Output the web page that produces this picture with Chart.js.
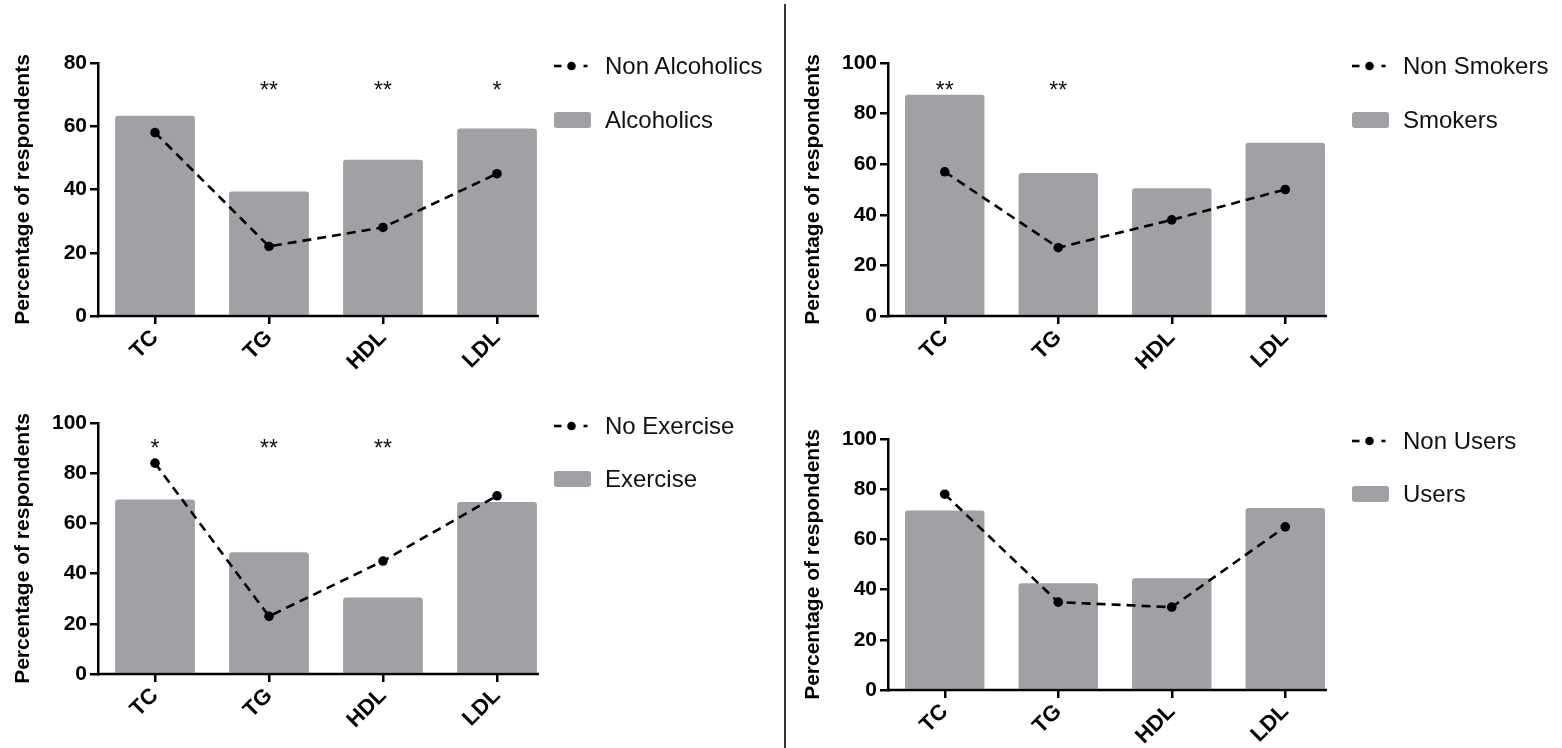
<!DOCTYPE html>
<html><head><meta charset="utf-8">
<script src="https://cdn.jsdelivr.net/npm/chart.js@4"></script>
<style>
html,body{margin:0;padding:0;background:#fff;}
body{width:1562px;height:748px;position:relative;overflow:hidden;font-family:"Liberation Sans",Arial,sans-serif;}
canvas.pane{position:absolute;}
.divider{position:absolute;left:784px;top:4px;width:2px;height:744px;background:#333;}
.leg{position:absolute;font-size:24px;color:#111;white-space:nowrap;line-height:26px;transform:translateY(-50%);}
.sym{position:absolute;transform:translateY(-50%);}
.box{width:37px;height:16px;border-radius:3px;background:#a0a0a5;}
</style>
</head><body>
<div class="divider"></div>
<script>
// ---------- data ----------
const categories = ['TC', 'TG', 'HDL', 'LDL'];

const alcoholics    = [63.3, 39.4, 49.4, 59.3];
const nonAlcoholics = [58, 22, 28, 45];
const starsAlcohol  = ['', '**', '**', '*'];

const smokers       = [87.5, 56.5, 50.5, 68.5];
const nonSmokers    = [57, 27, 38, 50];
const starsSmoking  = ['**', '**', '', ''];

const exercise      = [69.5, 48.5, 30.5, 68.5];
const noExercise    = [84, 23, 45, 71];
const starsExercise = ['*', '**', '**', ''];

const users         = [71.5, 42.5, 44.5, 72.5];
const nonUsers      = [78, 35, 33, 65];
const starsUsers    = ['', '', '', ''];

const yTicks80  = [0, 20, 40, 60, 80];
const yTicks100 = [0, 20, 40, 60, 80, 100];

const yTitle = 'Percentage of respondents';

// ---------- styling / layout ----------
const FONT = '"Liberation Sans", Arial, sans-serif';
const BAR_COLOR = '#a0a0a5';

const panels = [
  { left: 0,   top: 0,   w: 780, h: 380, T: 63, R: 226, H: 64,
    lineLabel: 'Non Alcoholics', barLabel: 'Alcoholics', line: nonAlcoholics, bar: alcoholics,
    stars: starsAlcohol, starLevel: 73, yTicks: yTicks80,
    legX: 554, legY: 66, legGap: 54 },
  { left: 790, top: 0,   w: 772, h: 380, T: 63, R: 220, H: 64,
    lineLabel: 'Non Smokers', barLabel: 'Smokers', line: nonSmokers, bar: smokers,
    stars: starsSmoking, starLevel: 91.5, yTicks: yTicks100,
    legX: 1352, legY: 66, legGap: 54 },
  { left: 0,   top: 360, w: 780, h: 388, T: 63, R: 226, H: 74,
    lineLabel: 'No Exercise', barLabel: 'Exercise', line: noExercise, bar: exercise,
    stars: starsExercise, starLevel: 92, yTicks: yTicks100,
    legX: 554, legY: 426, legGap: 53 },
  { left: 790, top: 370, w: 772, h: 378, T: 69, R: 220, H: 58,
    lineLabel: 'Non Users', barLabel: 'Users', line: nonUsers, bar: users,
    stars: starsUsers, starLevel: 91, yTicks: yTicks100,
    legX: 1352, legY: 441, legGap: 53 }
];

const decor = {
  id: 'decor',
  afterDatasetsDraw(chart, args, opts) {
    const ctx = chart.ctx;
    const area = chart.chartArea;
    const meta = chart.getDatasetMeta(1);
    const last = meta.data[meta.data.length - 1];
    const right = last.x + last.width / 2 + 2;
    ctx.save();
    ctx.strokeStyle = '#000';
    ctx.lineWidth = 2.5;
    ctx.beginPath();
    ctx.moveTo(area.left - 1.25, area.bottom);
    ctx.lineTo(right, area.bottom);
    ctx.stroke();
    const fs = 23;
    ctx.font = fs + 'px ' + FONT;
    ctx.fillStyle = '#111';
    ctx.textAlign = 'center';
    ctx.textBaseline = 'alphabetic';
    const yc = chart.scales.y.getPixelForValue(opts.level);
    (opts.labels || []).forEach((s, i) => {
      if (!s) return;
      const x = chart.scales.x.getPixelForValue(i);
      ctx.fillText(s, x, yc + 0.575 * fs);
    });
    ctx.restore();
  }
};

function lineSymbol() {
  const ns = 'http://www.w3.org/2000/svg';
  const svg = document.createElementNS(ns, 'svg');
  svg.setAttribute('width', '36'); svg.setAttribute('height', '14');
  svg.innerHTML = '<line x1="0" y1="7" x2="7.5" y2="7" stroke="#000" stroke-width="2.6"/>' +
    '<circle cx="17.5" cy="7" r="4.3" fill="#000"/>' +
    '<line x1="29.5" y1="7" x2="33.5" y2="7" stroke="#000" stroke-width="2.6"/>';
  return svg;
}

function addLegend(p, chart) {
  const ds = chart.data.datasets;
  ds.forEach((d, k) => {
    const cy = p.legY + k * p.legGap;
    const sym = document.createElement('div');
    sym.className = 'sym';
    sym.style.left = p.legX + 'px';
    sym.style.top = cy + 'px';
    if (d.type === 'line') { sym.appendChild(lineSymbol()); sym.style.height = '14px'; }
    else { const b = document.createElement('div'); b.className = 'box'; sym.appendChild(b); }
    document.body.appendChild(sym);
    const t = document.createElement('div');
    t.className = 'leg';
    t.textContent = d.label;
    t.style.left = (p.legX + 51) + 'px';
    t.style.top = cy + 'px';
    document.body.appendChild(t);
  });
}

panels.forEach(p => {
  const c = document.createElement('canvas');
  c.className = 'pane';
  c.width = p.w; c.height = p.h;
  c.style.left = p.left + 'px'; c.style.top = p.top + 'px';
  c.style.width = p.w + 'px'; c.style.height = p.h + 'px';
  document.body.appendChild(c);
  const yFont = { family: FONT, size: 21, weight: 'bold' };
  const xFont = { family: FONT, size: 22, weight: 'bold' };
  const chart = new Chart(c.getContext('2d'), {
    type: 'bar',
    data: {
      labels: categories,
      datasets: [
        { type: 'line', label: p.lineLabel, data: p.line, order: 0,
          borderColor: '#000', backgroundColor: '#000', borderWidth: 2.6,
          borderDash: [9, 6], pointRadius: 4.8, pointBackgroundColor: '#000',
          pointBorderWidth: 0, tension: 0, fill: false },
        { type: 'bar', label: p.barLabel, data: p.bar, order: 1,
          backgroundColor: BAR_COLOR, borderWidth: 0, borderRadius: 3,
          borderSkipped: 'start', categoryPercentage: 0.7, barPercentage: 1 }
      ]
    },
    options: {
      responsive: false, animation: false, devicePixelRatio: 1,
      layout: { padding: { left: 0, top: p.T, right: p.R, bottom: 0 } },
      plugins: { legend: { display: false }, tooltip: { enabled: false },
        decor: { labels: p.stars, level: p.starLevel } },
      scales: {
        x: {
          type: 'category', offset: true,
          ticks: { color: '#000', font: xFont, maxRotation: 45, minRotation: 45, padding: 1 },
          grid: { display: true, drawOnChartArea: false, drawTicks: true, tickLength: 8,
                  color: '#000', lineWidth: 2.5, offset: false },
          border: { display: false },
          afterFit(s) { s.height = p.H; }
        },
        y: {
          min: 0, max: p.yTicks[p.yTicks.length - 1],
          afterBuildTicks(s) { s.ticks = p.yTicks.map(v => ({ value: v })); },
          ticks: { color: '#000', font: yFont, padding: 3 },
          grid: { drawOnChartArea: false, drawTicks: true, tickLength: 8, color: '#000', lineWidth: 2.5 },
          border: { display: true, color: '#000', width: 2.5 },
          title: { display: true, text: yTitle, color: '#000',
                   font: { family: FONT, size: 21, weight: 'bold' }, padding: { top: 11, bottom: 0 } },
          afterFit(s) { s.width = 98; }
        }
      }
    },
    plugins: [decor]
  });
  addLegend(p, chart);
});
</script>
</body></html>
